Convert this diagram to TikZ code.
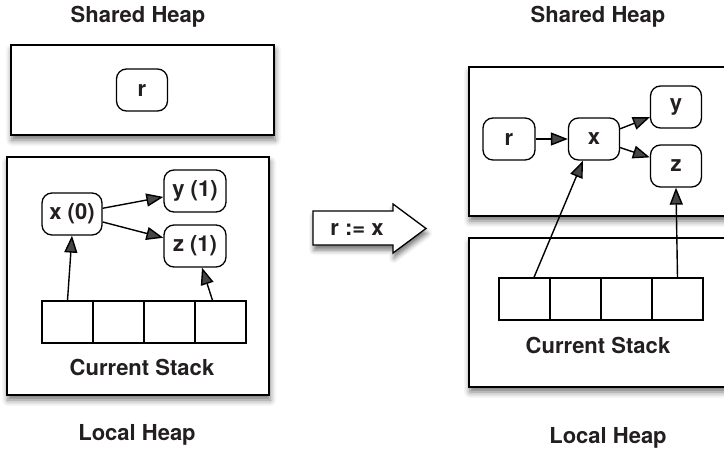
\documentclass[tikz,border=0pt]{standalone}
\usepackage{fontspec}
\setmainfont{TeX Gyre Heros}
\usetikzlibrary{arrows.meta,shadows.blur}
\definecolor{ink}{RGB}{35,31,32}

\begin{document}
\begin{tikzpicture}[x=1pt,y=-1pt,
  heap/.style={draw=black,line width=2pt,fill=white,
    blur shadow={shadow xshift=1pt,shadow yshift=-5pt,shadow blur radius=6pt,shadow opacity=55}},
  obj/.style={draw=black,line width=1.3pt,rounded corners=10pt,fill=white,
    minimum height=42pt,inner sep=0pt,font=\fontsize{22}{26}\selectfont\bfseries,text=ink},
  cell/.style={draw=black,line width=1.3pt,minimum width=51pt,minimum height=42pt,inner sep=0pt},
  ref/.style={-{Triangle[length=17pt,width=13pt]},line width=1.4pt},
  caption/.style={anchor=base,inner sep=0pt,font=\fontsize{22}{26}\selectfont\bfseries,text=ink}
]
  \clip (0,0) rectangle (724,453);

  % left: before
  \draw[heap] (11,45) rectangle (274,135);
  \draw[heap] (7,157) rectangle (269,395);
  \node[caption] (lshared) at (138,22) {Shared Heap};
  \node[caption] (llocal) at (137,440) {Local Heap};
  \node[caption] (lstack) at (142,375) {Current Stack};
  \draw (142,90) node[obj,minimum width=51pt] (lr) {r}
        (72,214) node[obj,minimum width=60pt] (lx) {x (0)}
        (195,191) node[obj,minimum width=62pt] (ly) {y (1)}
        (195,246) node[obj,minimum width=62pt] (lz) {z (1)};
  \foreach \i/\x in {1/67.5,2/118.5,3/169.5,4/220.5}
    \node[cell] (ls\i) at (\x,322) {};
  \draw[ref] (lx) -- (ly);
  \draw[ref] (lx) -- (lz);
  \draw[ref] (ls1.north) -- (lx.south);
  \draw[ref] ([xshift=-8pt]ls4.north) -- ([xshift=7pt]lz.south);

  % the assignment
  \draw[line width=1.3pt,fill=white,
    blur shadow={shadow xshift=1pt,shadow yshift=-5pt,shadow blur radius=5pt,shadow opacity=55}]
    (313,211) -- (393,211) -- (393,204) -- (426,228.5) -- (393,253) -- (393,245) -- (313,245) -- cycle;
  \node[obj,draw=none,fill=none] (assign) at (357,229) {r := x};

  % right: after
  \draw[heap] (469,67) rectangle (740,216);
  \draw[heap] (469,238) rectangle (740,387);
  \node[caption] (rshared) at (598,22) {Shared Heap};
  \node[caption] (rlocal) at (608,443) {Local Heap};
  \node[caption] (rstack) at (598,353) {Current Stack};
  \draw (509,139) node[obj,minimum width=52pt] (rr) {r}
        (594,139) node[obj,minimum width=51pt] (rx) {x}
        (676,107) node[obj,minimum width=51pt] (ry) {y}
        (676,166) node[obj,minimum width=51pt] (rz) {z};
  \foreach \i/\x in {1/524.5,2/575.5,3/626.5,4/677.5}
    \node[cell] (rs\i) at (\x,299) {};
  \draw[ref] (rr) -- (rx);
  \draw[ref] (rx) -- (ry);
  \draw[ref] (rx) -- (rz);
  \draw[ref] ([xshift=9.5pt]rs1.north) -- ([xshift=-11pt]rx.south);
  \draw[ref] (rs4.north) -- (rz.south);
\end{tikzpicture}
\end{document}
